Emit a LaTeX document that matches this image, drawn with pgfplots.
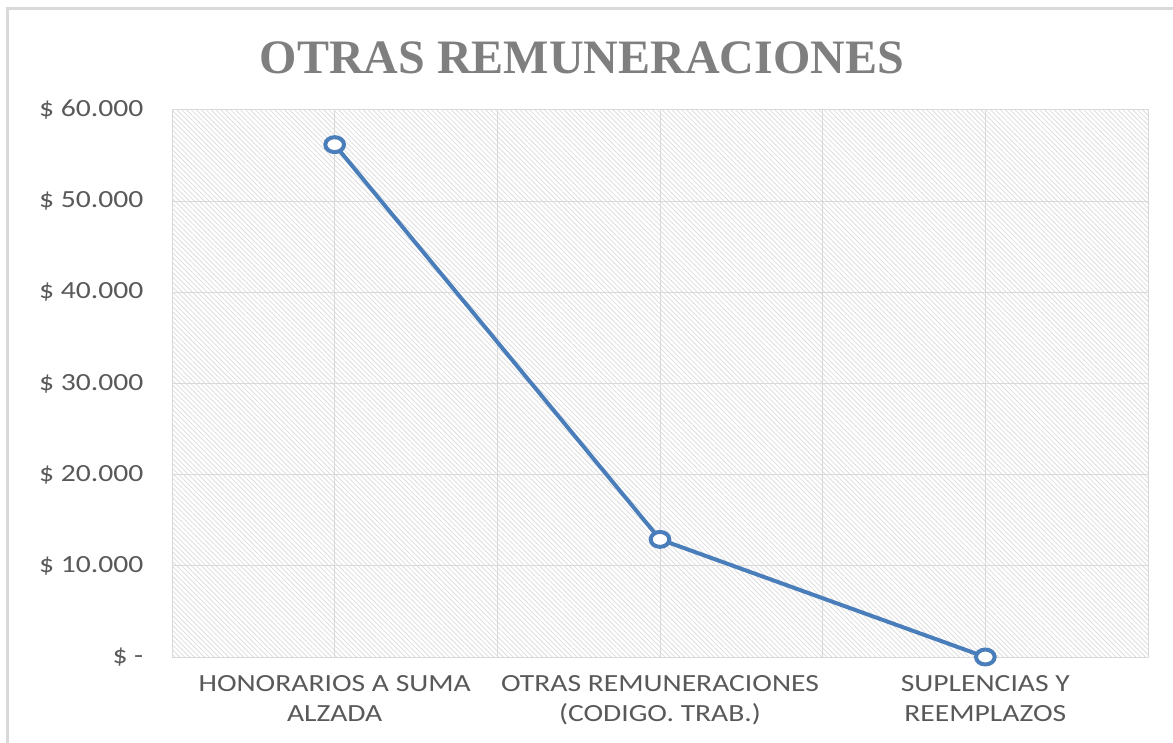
\documentclass[border=0pt]{standalone}
\usepackage{pgfplots}
\pgfplotsset{compat=1.18}
\usepackage{fontspec}
\setmainfont{Carlito}[FakeStretch=1.2]
\newfontfamily\titlefont{Liberation Serif}
\usetikzlibrary{patterns.meta}
\definecolor{lblue}{HTML}{4A7EBB}
\definecolor{tgray}{HTML}{595959}
\definecolor{ttl}{HTML}{7F7F7F}
\definecolor{grd}{HTML}{D9D9D9}
\begin{document}
\begin{tikzpicture}
\path[use as bounding box] (0,0) rectangle (879.75pt,556.5pt);
\draw[grd, line width=2.25pt] (5.6pt,-5pt) |- (890pt,549.75pt);
\node[font=\titlefont\bfseries\fontsize{36}{40}\selectfont, text=ttl] at (436.5pt,513pt) {OTRAS REMUNERACIONES};
\begin{axis}[
  at={(129pt,63.75pt)}, anchor=south west,
  scale only axis, width=732pt, height=410.25pt,
  xmin=0.5, xmax=3.5, ymin=0, ymax=60000,
  scaled y ticks=false,
  xtick={1,2,3}, minor xtick={1.5,2.5},
  ytick={0,10000,20000,30000,40000,50000,60000},
  yticklabels={\$ -, \$ 10.000, \$ 20.000, \$ 30.000, \$ 40.000, \$ 50.000, \$ 60.000},
  xticklabels={{HONORARIOS A SUMA\\ALZADA},{OTRAS REMUNERACIONES\\(CODIGO. TRAB.)},{SUPLENCIAS Y\\REEMPLAZOS}},
  xmajorgrids, xminorgrids, ymajorgrids,
  grid style={grd, line width=0.75pt},
  minor grid style={grd, line width=0.75pt},
  major tick length=0pt, minor tick length=0pt,
  axis line style={grd, line width=0.75pt},
  tick label style={font=\fontsize{18.5}{22.5}\selectfont, text=tgray},
  yticklabel style={xshift=-18pt},
  xticklabel style={align=center, yshift=-10pt},
  axis background/.style={pattern={Lines[angle=-45,distance=2.6pt,line width=0.6pt]}, pattern color=gray!27},
  clip=false,
]
\addplot[lblue, line width=3pt, mark=*, mark size=5.6pt, mark options={fill=white, xscale=1.25}] coordinates {(1,56200) (2,12900) (3,0)};
\end{axis}
\end{tikzpicture}
\end{document}
